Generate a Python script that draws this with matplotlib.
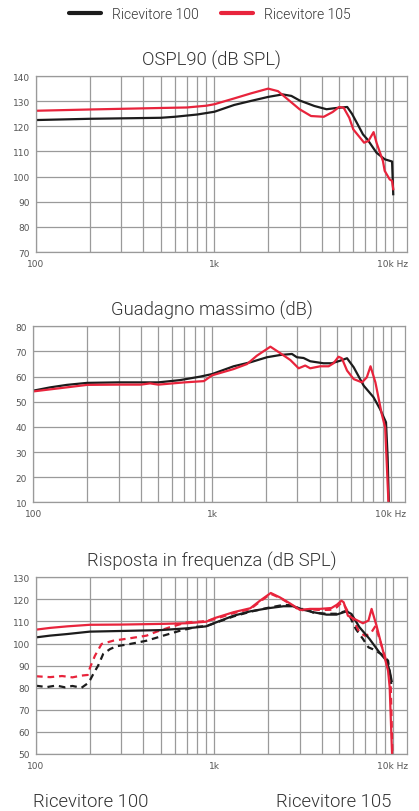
import numpy as np
from matplotlib import pyplot as plt
from matplotlib.lines import Line2D

# OSPL90 (dB SPL)
osp_f_100 = [100, 200, 500, 600, 800, 1000, 1290, 1600, 2000, 2410, 2700, 3000, 3630,
             4250, 4700, 5000, 5550, 5900, 6350, 6800, 7200, 8100, 9000, 9900, 10050]
osp_100 = [122.5, 123.0, 123.4, 123.8, 124.7, 125.8, 128.5, 130.1, 131.7, 132.7, 132.1,
           130.3, 128.1, 126.8, 127.2, 127.4, 127.7, 125.0, 120.8, 116.8, 114.8, 109.5,
           106.9, 106.0, 93.0]
osp_f_105 = [100, 200, 500, 700, 900, 1000, 1290, 1600, 2000, 2270, 2580, 3000, 3480,
             4100, 4600, 5000, 5300, 5700, 6000, 6900, 7300, 7800, 8100, 8800, 9000,
             9600, 9900, 10050]
osp_105 = [126.2, 126.7, 127.3, 127.5, 128.2, 128.8, 131.1, 133.1, 135.0, 134.0, 130.7,
           126.8, 124.1, 123.8, 125.7, 127.7, 127.4, 123.4, 118.8, 113.5, 114.2, 117.7,
           113.5, 106.2, 102.3, 98.9, 98.3, 95.0]

# Guadagno massimo (dB)
gain_f_100 = [100, 124, 154, 200, 300, 500, 662, 860, 1000, 1320, 1640, 2030, 2410, 2800,
              2980, 3250, 3540, 4200, 4670, 5200, 5690, 6200, 7050, 8000, 8700, 9400,
              9600, 9750]
gain_100 = [54.4, 55.7, 56.7, 57.5, 57.7, 57.7, 58.6, 60.0, 61.0, 64.1, 65.7, 67.7, 68.6,
            69.0, 67.7, 67.4, 66.1, 65.3, 65.3, 66.3, 67.3, 63.7, 56.4, 51.8, 47.1, 41.8,
            27.9, 10.0]
gain_f_105 = [100, 200, 300, 400, 450, 500, 700, 900, 1000, 1320, 1570, 1780, 2120, 2410,
              2740, 3050, 3320, 3540, 4030, 4490, 4780, 5100, 5320, 5690, 6200, 6900,
              7340, 7700, 8200, 8900, 9300, 9700]
gain_105 = [54.1, 56.7, 56.8, 56.8, 57.3, 56.8, 57.7, 58.2, 60.5, 63.0, 65.0, 68.3, 71.9,
            69.3, 66.6, 63.3, 64.4, 63.3, 64.1, 64.1, 65.3, 67.9, 67.3, 62.4, 59.0, 57.7,
            59.7, 64.1, 57.7, 45.1, 39.8, 10.0]

# Risposta in frequenza (dB SPL), solid and dashed
resp_f_100 = [100, 120, 149, 200, 300, 500, 700, 900, 1000, 1280, 1590, 2000, 2440, 2770,
              3020, 3580, 4250, 4830, 5500, 5860, 6500, 7400, 8400, 9200, 9600, 9850]
resp_100 = [102.8, 103.6, 104.3, 105.4, 105.7, 106.1, 106.9, 107.8, 109.3, 112.6, 114.6,
            116.0, 116.9, 116.9, 115.7, 114.2, 113.1, 113.1, 114.6, 113.4, 107.4, 102.1,
            96.0, 92.3, 87.7, 83.0]
resp_f_105 = [100, 120, 150, 200, 300, 500, 700, 900, 1000, 1280, 1590, 1800, 2070, 2330,
              2650, 3020, 3430, 3900, 4530, 4860, 5150, 5300, 5600, 6100, 6800, 7300,
              7600, 8100, 8800, 9400, 9600, 9900]
resp_105 = [106.3, 107.1, 107.8, 108.5, 108.6, 108.9, 109.2, 109.9, 111.5, 114.2, 116.0,
            119.4, 122.9, 120.9, 118.2, 115.2, 115.7, 115.7, 116.1, 117.6, 119.4, 118.7,
            112.6, 111.1, 109.2, 110.4, 115.7, 108.1, 96.8, 87.7, 80.2, 50.0]
resp_f_100d = [100, 115, 130, 145, 160, 180, 195, 201, 212, 223, 238, 260, 283, 336, 417,
               518, 641, 796, 900, 1000, 1280, 1590, 2000, 2440, 2770, 3020, 3250, 3580,
               4250, 4830, 5500, 5600, 6200, 6800, 7300, 7700, 8600, 9400, 9800]
resp_100d = [80.9, 80.3, 81.0, 80.2, 80.8, 80.0, 82.0, 83.5, 87.0, 90.0, 95.3, 97.5, 98.8,
             99.8, 101.3, 103.6, 105.8, 107.6, 107.9, 109.2, 112.3, 114.4, 116.2, 117.5,
             117.3, 115.7, 115.6, 114.0, 113.5, 113.5, 114.8, 114.2, 106.6, 102.1, 98.3,
             97.5, 95.3, 92.3, 81.7]
resp_f_105d = [100, 120, 140, 160, 180, 195, 201, 214, 233, 271, 336, 417, 475, 563, 698,
               850, 1000, 1280, 1590, 1800, 2070, 2330, 2650, 3020, 3430, 3900, 4530, 4860,
               5150, 5300, 5600, 6000, 6500, 7000, 7500, 8000, 8500, 9200, 9700, 9950]
resp_105d = [85.2, 84.8, 85.3, 84.7, 85.5, 85.8, 89.2, 94.5, 99.8, 101.3, 102.4, 103.6,
             105.4, 107.4, 109.6, 110.0, 111.0, 113.8, 115.6, 119.0, 122.5, 120.7, 118.0,
             115.0, 115.5, 115.2, 115.3, 116.5, 118.5, 118.0, 114.5, 111.0, 105.0, 103.5,
             104.5, 108.0, 101.0, 92.0, 85.0, 50.0]

x_ticks = [100, 1000, 10000]
x_labels = ["100", "1k", "10k Hz"]

black = "#1c1c1c"
red = "#e8243c"
grid_col = "#9a9a9a"
text_col = "#333333"
tick_font = ["Liberation Sans Narrow", "DejaVu Sans"]

fig = plt.figure(figsize=(4.19, 8.12), dpi=100)


def style_axes(ax, title, ymin, ymax, title_x):
    ax.set_xscale("log")
    ax.set_xlim(100, 12000)
    ax.set_ylim(ymin, ymax)
    ax.set_yticks(np.arange(ymin, ymax + 1, 10))
    ax.set_xticks(x_ticks)
    ax.set_xticklabels(x_labels)
    ax.xaxis.set_minor_formatter(plt.NullFormatter())
    ax.grid(True, which="both", axis="x", color=grid_col, lw=0.9)
    ax.grid(True, which="major", axis="y", color=grid_col, lw=0.9)
    ax.tick_params(which="both", length=0, labelsize=6.5, labelcolor="#555555")
    ax.tick_params(axis="y", pad=4.5)
    ax.tick_params(axis="x", pad=5)
    for lab in ax.get_xticklabels() + ax.get_yticklabels():
        lab.set_family(tick_font)
    for s in ax.spines.values():
        s.set_color(grid_col)
        s.set_linewidth(0.9)
    # titles sit on the figure centre, not the axes centre
    ax.set_title(title, fontsize=13.3, color=text_col, pad=8, family="Roboto",
                 fontweight=300, x=title_x)


ax1 = fig.add_axes([0.0859, 0.6884, 0.8854, 0.2167])
style_axes(ax1, "OSPL90 (dB SPL)", 70, 140, 0.474)
ax1.plot(osp_f_100, osp_100, color=black, lw=1.6)
ax1.plot(osp_f_105, osp_105, color=red, lw=1.6)

ax2 = fig.add_axes([0.0795, 0.3802, 0.8870, 0.2167])
style_axes(ax2, "Guadagno massimo (dB)", 10, 80, 0.481)
ax2.plot(gain_f_100, gain_100, color=black, lw=1.6)
ax2.plot(gain_f_105, gain_105, color=red, lw=1.6)

ax3 = fig.add_axes([0.0859, 0.0702, 0.8854, 0.2176])
style_axes(ax3, "Risposta in frequenza (dB SPL)", 50, 130, 0.474)
ax3.plot(resp_f_100d, resp_100d, color=black, lw=1.6, ls=(0, (3, 2.2)))
ax3.plot(resp_f_105d, resp_105d, color=red, lw=1.6, ls=(0, (3, 2.2)))
ax3.plot(resp_f_100, resp_100, color=black, lw=1.6)
ax3.plot(resp_f_105, resp_105, color=red, lw=1.6)

handles = [
    Line2D([], [], color=black, lw=3, solid_capstyle="round", label="Ricevitore 100"),
    Line2D([], [], color=red, lw=3, solid_capstyle="round", label="Ricevitore 105"),
]
fig.legend(handles=handles, loc="center", bbox_to_anchor=(0.5, 1 - 15 / 812), ncol=2,
           frameon=False, handlelength=2.3, handletextpad=0.8, columnspacing=1.6,
           prop={"family": "Roboto", "size": 10, "weight": 300}, labelcolor=text_col)

fig.text(33 / 419, 1 - 802 / 812, "Ricevitore 100", ha="left", va="center",
         fontsize=13.3, color=text_col, family="Roboto", fontweight=300)
fig.text(391 / 419, 1 - 802 / 812, "Ricevitore 105", ha="right", va="center",
         fontsize=13.3, color=text_col, family="Roboto", fontweight=300)

plt.savefig("out.png", dpi=100)
